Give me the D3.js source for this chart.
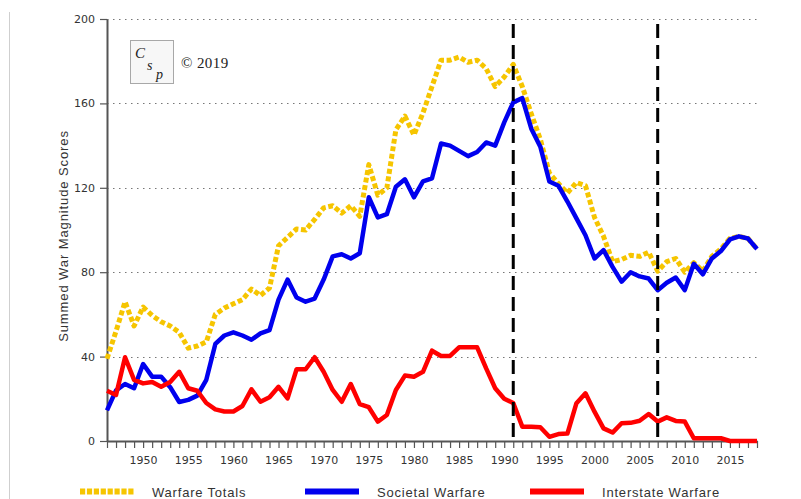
<!DOCTYPE html>
<html>
<head>
<meta charset="utf-8">
<script src="https://cdn.jsdelivr.net/npm/d3@7"></script>
<style>
  html, body { margin: 0; padding: 0; background: #fff; }
  svg { display: block; }
</style>
</head>
<body>
<svg id="chart" width="801" height="499"></svg>
<script>
// ---- DATA ----
const years = [1946,1947,1948,1949,1950,1951,1952,1953,1954,1955,1956,1957,1958,1959,1960,
  1961,1962,1963,1964,1965,1966,1967,1968,1969,1970,1971,1972,1973,1974,1975,1976,1977,1978,
  1979,1980,1981,1982,1983,1984,1985,1986,1987,1988,1989,1990,1991,1992,1993,1994,1995,1996,
  1997,1998,1999,2000,2001,2002,2003,2004,2005,2006,2007,2008,2009,2010,2011,2012,2013,2014,
  2015,2016,2017,2018];

const warfareTotals = [39,52,66,54.5,63.5,59.5,56.5,54.5,51.5,44,45,47,60,63,65,
  67,72,69,72.5,92.5,96.5,100.5,100,105,110.5,111.5,108,111.5,106.5,131,116.5,120,147.5,
  154,145,155.5,168,180.5,180.5,182,179.5,180.5,176.5,168,172.5,178.5,168,155,143,127,122,
  117.5,122.5,121,106,97,85,86,88,87.5,89.5,80.5,85,86.5,80,84.5,80.5,87.5,91,
  96,97,96,91];

const societalWarfare = [14.5,24,27,25,36.5,30.5,30.5,25.5,18.5,19.5,21.5,29,46,50,51.5,
  50,48,51,52.5,67,76.5,68,66,67.5,76.5,87.5,88.5,86.5,89,115.5,106,107.5,120.5,
  124,115.5,123,124.5,141,140,137.5,135,137,141.5,140,151,160.5,162.5,148,139.5,123,121,
  113.5,105.5,97.5,86.5,90.5,82.5,75.5,80,78,77,71.5,75,77.5,71.5,84,79,86.5,90,
  95.5,97,96,91];

const interstateWarfare = [23.8,21.8,39.7,29,27.3,28,25.7,28,32.8,25,23.8,18,15,14,14,
  16.6,24.5,18.6,20.7,25.7,20.2,34,34,39.7,32.8,24.2,18.6,27,17.5,16,9.2,12.3,24.2,
  31,30.5,32.8,42.8,40.3,40.3,44.4,44.4,44.4,34.4,25,20,18,6.8,6.8,6.5,2,3.3,
  3.5,17.9,22.6,13.9,6,4,8.4,8.6,9.6,12.8,9.2,11.2,9.5,9.2,1.3,1.3,1.3,1.3,
  0,0,0,0];

const yTicks = [0, 40, 80, 120, 160, 200];
const xLabelYears = [1950,1955,1960,1965,1970,1975,1980,1985,1990,1995,2000,2005,2010,2015];
const markerYears = [1991, 2007];
const yTitle = "Summed War Magnitude Scores";
const seriesNames = ["Warfare Totals", "Societal Warfare", "Interstate Warfare"];
const copyrightText = "\u00A9 2019";
const logoLetters = ["C", "s", "p"];

// ---- CHART ----
const svg = d3.select("#chart");
const x = d3.scaleLinear().domain([1946, 2018]).range([107, 757]);
const y = d3.scaleLinear().domain([0, 200]).range([441, 19]);

// left border line
svg.append("line").attr("x1", 9.5).attr("x2", 9.5).attr("y1", 12).attr("y2", 499)
  .attr("stroke", "#cfcfcf").attr("stroke-width", 1);

// gridlines
svg.append("g").selectAll("line").data(yTicks.filter(d => d > 0)).join("line")
  .attr("x1", x(1946)).attr("x2", x(2018))
  .attr("y1", d => Math.round(y(d)) + 0.5).attr("y2", d => Math.round(y(d)) + 0.5)
  .attr("stroke", "#777").attr("stroke-width", 1).attr("stroke-dasharray", "1.5,4.5");

// logo
const logo = svg.append("g");
logo.append("rect").attr("x", 130.5).attr("y", 40.5).attr("width", 43).attr("height", 43)
  .attr("fill", "#f7f7f7").attr("stroke", "#a8a8a8").attr("stroke-width", 1);
const logoFont = "'Liberation Serif', serif";
const logoPos = [[135, 58, 15], [147, 70, 14], [156, 79, 14]];
logoLetters.forEach((l, i) => {
  logo.append("text").attr("x", logoPos[i][0]).attr("y", logoPos[i][1]).text(l)
    .attr("font-family", logoFont).attr("font-style", "italic")
    .attr("font-size", logoPos[i][2]).attr("fill", "#222");
});
svg.append("text").attr("x", 181).attr("y", 68).text(copyrightText)
  .attr("font-family", logoFont).attr("font-size", 15).attr("letter-spacing", 0.4).attr("fill", "#222");

// axes
const yAxis = svg.append("g").attr("transform", `translate(${x(1946)},0)`)
  .call(d3.axisLeft(y).tickValues(yTicks).tickSize(7).tickSizeOuter(0).tickPadding(5));
const xAxis = svg.append("g").attr("transform", `translate(0,${y(0)})`)
  .call(d3.axisBottom(x).tickValues(years).tickSize(7).tickSizeOuter(0).tickPadding(8)
    .tickFormat(d => xLabelYears.includes(d) ? String(d) : ""));
[yAxis, xAxis].forEach(g => {
  g.select(".domain").attr("stroke", "#555").attr("stroke-width", 2);
  g.selectAll(".tick line").attr("stroke", "#555").attr("stroke-width", 1.2);
  g.selectAll(".tick text").attr("font-family", "'DejaVu Sans', Verdana, sans-serif")
    .attr("font-size", 11).attr("fill", "#333");
});

// y title
svg.append("text").attr("transform", "translate(68,236) rotate(-90)")
  .attr("text-anchor", "middle").attr("font-family", "'Liberation Sans', Arial, sans-serif")
  .attr("font-size", 13).attr("letter-spacing", 0.9).attr("fill", "#333").text(yTitle);

// series
const line = d3.line().x((d, i) => x(years[i])).y(d => y(d));
const styles = [
  { data: warfareTotals, color: "#F6C500", width: 5, dash: "5,2.6" },
  { data: societalWarfare, color: "#0000EE", width: 4.5, dash: null },
  { data: interstateWarfare, color: "#FF0000", width: 4.5, dash: null }
];
styles.forEach(s => {
  svg.append("path").datum(s.data).attr("d", line)
    .attr("fill", "none").attr("stroke", s.color).attr("stroke-width", s.width)
    .attr("stroke-linejoin", "round").attr("stroke-dasharray", s.dash);
});

// marker dashed lines
svg.append("g").selectAll("line").data(markerYears).join("line")
  .attr("x1", d => x(d)).attr("x2", d => x(d)).attr("y1", 24).attr("y2", y(0))
  .attr("stroke", "#000").attr("stroke-width", 3).attr("stroke-dasharray", "14,7");

// legend
const legendX = [80, 305, 530];
const legend = svg.append("g");
styles.forEach((s, i) => {
  legend.append("line").attr("x1", legendX[i]).attr("x2", legendX[i] + 54)
    .attr("y1", 491.5).attr("y2", 491.5).attr("stroke", s.color).attr("stroke-width", 6)
    .attr("stroke-dasharray", s.dash ? "5.2,1.7" : null);
  legend.append("text").attr("x", legendX[i] + 72).attr("y", 497)
    .attr("font-family", "'Liberation Sans', Arial, sans-serif").attr("font-size", 13)
    .attr("letter-spacing", 0.8).attr("fill", "#333").text(seriesNames[i]);
});
</script>
</body>
</html>
